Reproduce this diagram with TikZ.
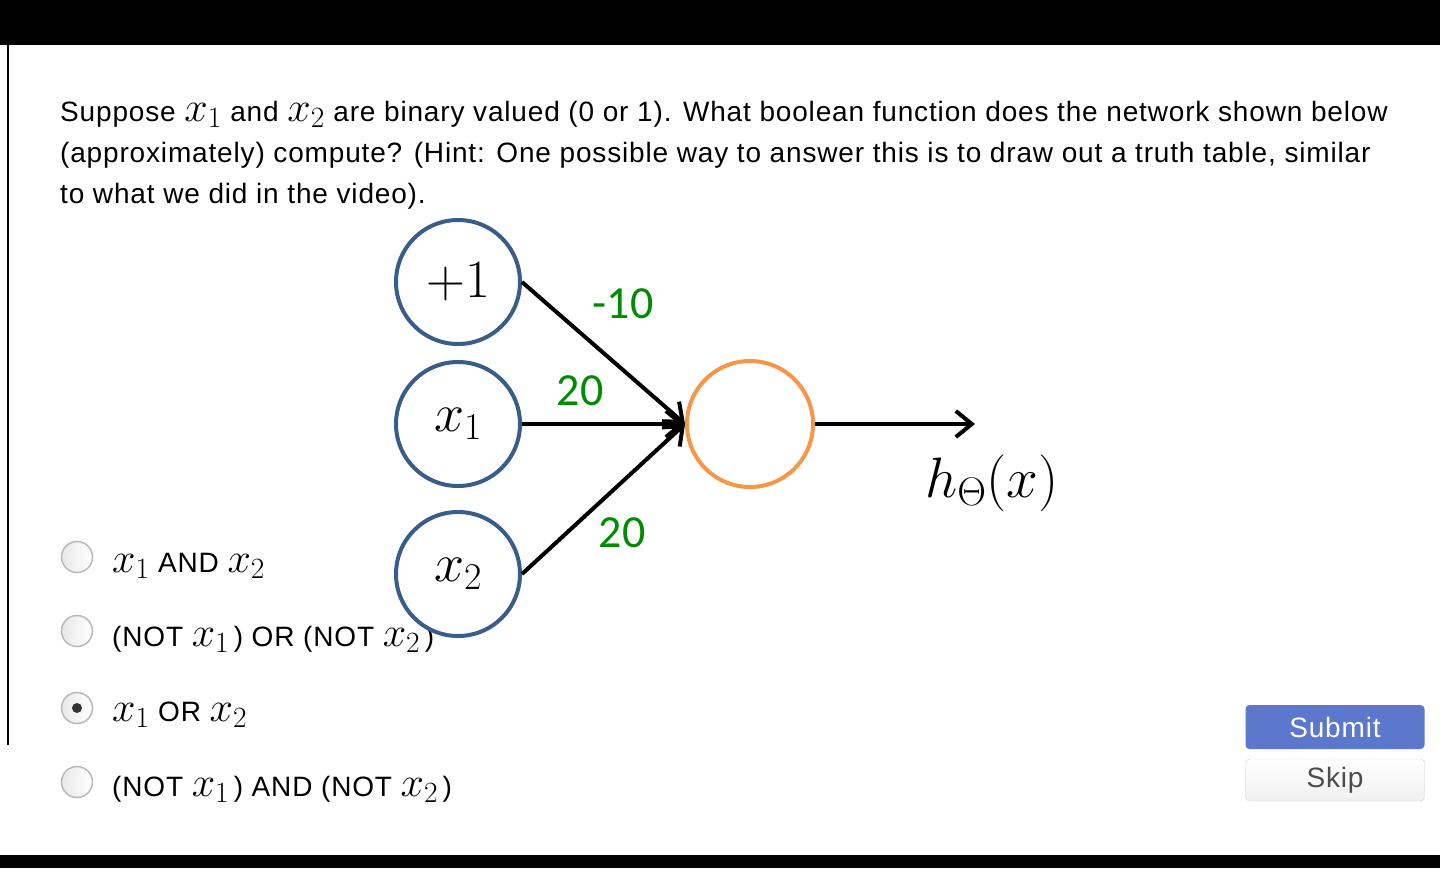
\RequirePackage{fix-cm}
\documentclass[tikz,border=0pt]{standalone}
\usepackage{fontspec}
\setmainfont[LetterSpace=3.0]{Liberation Sans}
\newfontfamily\weightfont{Carlito}
\usetikzlibrary{arrows.meta}
\definecolor{unitblue}{RGB}{56,93,138}
\definecolor{unitorange}{RGB}{247,150,70}
\definecolor{weightgreen}{RGB}{0,140,0}
\definecolor{submitblue}{RGB}{91,120,205}
\newcommand{\qfont}{\fontsize{28}{42}\selectfont}
\newcommand{\xv}[1]{{\fontsize{42}{42}\selectfont$x_{#1}$}}

\begin{document}
\begin{tikzpicture}[x=1pt,y=-1pt,
  qline/.style={anchor=base west,inner sep=0pt,font=\qfont},
  unit/.style={circle,draw=unitblue,line width=4pt,minimum size=124pt,inner sep=0pt,
    font=\fontsize{54}{60}\selectfont},
  outunit/.style={unit,draw=unitorange,minimum size=126pt},
  wire/.style={line width=4pt,-{Straight Barb[length=16pt,width=26pt]}},
  weight/.style={text=weightgreen,font=\weightfont\fontsize{46}{50}\selectfont},
  radio/.style={circle,draw=gray!55,line width=1.5pt,minimum size=31pt,inner sep=0pt,
    left color=gray!18,right color=white},
  button/.style={rounded corners=4pt,minimum width=179pt,minimum height=44pt,
    font=\qfont}]
 \useasboundingbox (0,0) rectangle (1440,868);
 \fill (0,0) rectangle (1440,45);
 \fill (0,855) rectangle (1440,868);
 \draw[line width=1.5pt] (8,45) -- (8,745);
 % question text
 \node[qline] (q1) at (60,121) {Suppose \xv1 and \xv2 are binary valued (0 or 1). What boolean function does the network shown below};
 \node[qline] (q2) at (60,162) {(approximately) compute? (Hint: One possible way to answer this is to draw out a truth table, similar};
 \node[qline] (q3) at (60,203) {to what we did in the video).};
 % answers
 \node[radio] (r1) at (77,557) {};
 \node[radio] (r2) at (77,631) {};
 \node[radio] (r3) at (77,708) {};
 \node[radio] (r4) at (77,782) {};
 \fill[black!80] (r3.center) circle (5pt);
 \node[qline] (a1) at (112,572) {\xv1 AND \xv2};
 \node[qline] (a2) at (112,646) {(NOT \xv1\,) OR (NOT \xv2\,)};
 \node[qline] (a3) at (112,721) {\xv1 OR \xv2};
 \node[qline] (a4) at (112,796) {(NOT \xv1\,) AND (NOT \xv2\,)};
 % network
 \node[unit] (bias) at (458,282) {$+1$};
 \node[unit] (x1) at (458,424) {$x_1$};
 \node[unit] (x2) at (458,574) {$x_2$};
 \node[outunit] (out) at (750,424) {};
 \coordinate (hend) at (975,424);
 \draw[wire] (bias.east) -- (out.west);
 \draw[wire] (x1.east) -- (out.west);
 \draw[wire] (x2.east) -- (out.west);
 \draw[wire] (out.east) -- (hend);
 \node[weight] (w0) at (623,304) {-10};
 \node[weight] (w1) at (580,391) {20};
 \node[weight] (w2) at (622,533) {20};
 \node[font=\fontsize{57}{62}\selectfont] (hx) at (992,483) {$h_\Theta(x)$};
 % buttons
 \node[button,fill=submitblue,text=white] (submit) at (1335,727) {Submit};
 \node[button,draw=gray!35,top color=white,bottom color=gray!12,text=gray!60!black,
   minimum height=42pt] (skip) at (1335,780) {Skip};
\end{tikzpicture}
\end{document}
